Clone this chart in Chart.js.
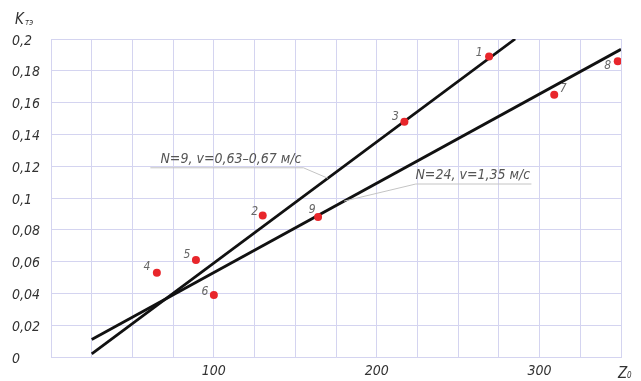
<!DOCTYPE html>
<html>
<head>
<meta charset="utf-8">
<script src="https://cdn.jsdelivr.net/npm/chart.js@4.4.1/dist/chart.umd.min.js"></script>
<style>
  html, body { margin: 0; padding: 0; background: #fff; }
  #wrap { width: 641px; height: 381px; }
</style>
</head>
<body>
<div id="wrap"><canvas id="chart" width="641" height="381"></canvas></div>
<script>
// опытные точки (номер, Z0, Kтэ)
const pointNames = ['1', '2', '3', '4', '5', '6', '7', '8', '9'];
const pointZ = [269, 130, 217, 65, 89, 100, 309, 348, 164];
const pointK = [0.189, 0.089, 0.148, 0.053, 0.061, 0.039, 0.165, 0.186, 0.088];

// аппроксимирующие прямые
const lineN9Z = [25, 285];
const lineN9K = [0.002, 0.2];
const lineN24Z = [25, 350];
const lineN24K = [0.011, 0.1935];
const lineLabels = ['N=9, v=0,63–0,67 м/с', 'N=24, v=1,35 м/с'];

// оси
const xTickLabels = [100, 200, 300];
const xTitle = 'Z';
const xTitleSub = '0';
const yTitle = 'K';
const yTitleSub = 'тэ';

const FONT = '"Liberation Sans Narrow", "DejaVu Sans Condensed", "Liberation Sans", sans-serif';
const GRID = '#d4d4f0';

// смещения подписей номеров точек (px)
const numOffsets = [[-10, -4], [-8, -4], [-9, -5], [-10, -6], [-9, -5], [-9, -3], [9, -6], [-10, 5], [-6, -7]];

// выноски: текст, положение текста, полка и точка на прямой (в единицах осей)
const callouts = [
  { text: lineLabels[0], tz: 110.5, tk: 0.1245, z1: 61, z2: 155, uk: 0.119, fromZ: 155, lz: lineN9Z, lk: lineN9K, atZ: 170 },
  { text: lineLabels[1], tz: 259, tk: 0.1145, z1: 224, z2: 295, uk: 0.1088, fromZ: 224, lz: lineN24Z, lk: lineN24K, atZ: 180 }
];

function onLine(lz, lk, z) {
  return lk[0] + (lk[1] - lk[0]) * (z - lz[0]) / (lz[1] - lz[0]);
}

function toXY(zs, ks) {
  return zs.map((z, i) => ({ x: z, y: ks[i] }));
}

const textPlugin = {
  id: 'textPlugin',
  afterDatasetsDraw(chart) {
    const { ctx, scales: { x, y } } = chart;
    ctx.save();

    // номера точек
    ctx.font = 'italic 12px ' + FONT;
    ctx.fillStyle = '#666';
    ctx.textAlign = 'center';
    ctx.textBaseline = 'middle';
    pointNames.forEach((n, i) => {
      ctx.fillText(n, x.getPixelForValue(pointZ[i]) + numOffsets[i][0], y.getPixelForValue(pointK[i]) + numOffsets[i][1]);
    });

    // выноски
    callouts.forEach(c => {
      ctx.strokeStyle = '#c4c4c4';
      ctx.lineWidth = 1;
      ctx.beginPath();
      ctx.moveTo(x.getPixelForValue(c.z1), y.getPixelForValue(c.uk));
      ctx.lineTo(x.getPixelForValue(c.z2), y.getPixelForValue(c.uk));
      ctx.moveTo(x.getPixelForValue(c.fromZ), y.getPixelForValue(c.uk));
      ctx.lineTo(x.getPixelForValue(c.atZ), y.getPixelForValue(onLine(c.lz, c.lk, c.atZ)));
      ctx.stroke();
      ctx.font = 'italic 14px ' + FONT;
      ctx.fillStyle = '#555';
      ctx.fillText(c.text, x.getPixelForValue(c.tz), y.getPixelForValue(c.tk));
    });

    // подписи осей
    ctx.fillStyle = '#333';
    ctx.textAlign = 'left';
    ctx.textBaseline = 'alphabetic';
    ctx.font = 'italic 15px ' + FONT;
    ctx.fillText(yTitle, 15, 24);
    ctx.fillText(xTitle, 618, 378);
    ctx.font = 'italic 8px ' + FONT;
    ctx.fillText(yTitleSub, 25, 25);
    ctx.fillText(xTitleSub, 627, 378);
    ctx.restore();
  }
};

new Chart(document.getElementById('chart'), {
  type: 'scatter',
  data: {
    datasets: [
      {
        label: 'points',
        data: toXY(pointZ, pointK),
        pointRadius: 4,
        pointBackgroundColor: '#e8262b',
        pointBorderWidth: 0,
        showLine: false
      },
      {
        label: lineLabels[0],
        data: toXY(lineN9Z, lineN9K),
        showLine: true,
        borderColor: '#111',
        borderWidth: 2.8,
        pointRadius: 0
      },
      {
        label: lineLabels[1],
        data: toXY(lineN24Z, lineN24K),
        showLine: true,
        borderColor: '#111',
        borderWidth: 2.8,
        pointRadius: 0
      }
    ]
  },
  options: {
    responsive: false,
    animation: false,
    layout: { padding: { left: 12, top: 39, right: 20, bottom: 0 } },
    plugins: { legend: { display: false }, tooltip: { enabled: false } },
    scales: {
      x: {
        type: 'linear',
        min: 0,
        max: 350,
        afterFit(s) { s.height = 24; },
        grid: { color: GRID, drawTicks: false },
        border: { color: GRID },
        ticks: {
          stepSize: 25,
          padding: 6,
          maxRotation: 0,
          autoSkip: false,
          color: '#333',
          font: { family: FONT, size: 14, style: 'italic' },
          callback: v => xTickLabels.includes(v) ? String(v) : ''
        }
      },
      y: {
        min: 0,
        max: 0.2,
        afterFit(s) { s.width = 39; },
        grid: { color: GRID, drawTicks: false },
        border: { color: GRID },
        ticks: {
          stepSize: 0.02,
          crossAlign: 'far',
          labelOffset: 2,
          color: '#333',
          font: { family: FONT, size: 14, style: 'italic' },
          callback: v => String(Math.round(v * 100) / 100).replace('.', ',')
        }
      }
    }
  },
  plugins: [textPlugin]
});
</script>
</body>
</html>
